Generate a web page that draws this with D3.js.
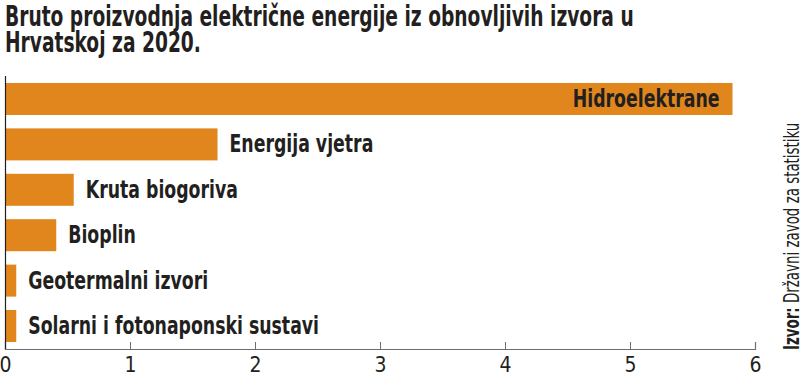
<!DOCTYPE html>
<html>
<head>
<meta charset="utf-8">
<script src="https://cdn.jsdelivr.net/npm/d3@7"></script>
<style>
  body { margin: 0; background: #fff; }
  svg { display: block; }
  text { font-family: "Liberation Sans Narrow", "DejaVu Sans Condensed", sans-serif; }
</style>
</head>
<body>
<svg id="Vis" width="800" height="374"></svg>
<script>
// data
const categories = ["Hidroelektrane", "Energija vjetra", "Kruta biogoriva", "Bioplin", "Geotermalni izvori", "Solarni i fotonaponski sustavi"];
const values = [5.82, 1.70, 0.55, 0.41, 0.09, 0.09];
const xTicks = [0, 1, 2, 3, 4, 5, 6];
const titleLines = ["Bruto proizvodnja električne energije iz obnovljivih izvora u", "Hrvatskoj za 2020."];
const sourceBold = "Izvor:";
const sourceText = " Državni zavod za statistiku";

const margin = { top: 76, bottom: 25, left: 5, right: 45 };
const barColor = "#e0861d";
const textColor = "#231f20";

const svg = d3.select("svg#Vis");
const width = +svg.attr("width");
const height = +svg.attr("height");
const plotWidth = width - margin.left - margin.right;
const plotHeight = height - margin.top - margin.bottom;

/* TITLE */
svg.append("g").attr("id", "title")
  .selectAll("text")
  .data(titleLines)
  .join("text")
    .attr("transform", (d, i) => "translate(5," + (26 + i * 26) + ") scale(0.715,1)")
    .style("font-size", "29px")
    .style("font-weight", "bold")
    .style("fill", textColor)
    .text(d => d);

const plot = svg.append("g").attr("id", "plot")
  .attr("transform", "translate(" + margin.left + "," + margin.top + ")");

/* SCALES */
const xScale = d3.scaleLinear().domain([0, 6]).range([0, plotWidth]);
const yScale = d3.scaleBand()
  .domain(categories)
  .range([0, plotHeight])
  .paddingInner(0.295)
  .paddingOuter(0.154);

/* BARS */
const rows = categories.map((c, i) => ({ name: c, value: values[i] }));

plot.append("g").attr("id", "bars")
  .selectAll("rect")
  .data(rows)
  .join("rect")
    .attr("x", 0)
    .attr("y", d => yScale(d.name))
    .attr("width", d => xScale(d.value))
    .attr("height", yScale.bandwidth())
    .style("fill", barColor);

/* LABELS */
plot.append("g").attr("id", "labels")
  .selectAll("text")
  .data(rows)
  .join("text")
    .attr("transform", (d, i) => {
      const x = i === 0 ? xScale(d.value) - 13 : xScale(d.value) + 12;
      return "translate(" + x + "," + (yScale(d.name) + yScale.bandwidth() / 2 + 8) + ") scale(0.77,1)";
    })
    .attr("text-anchor", (d, i) => i === 0 ? "end" : "start")
    .style("font-size", "25px")
    .style("font-weight", "bold")
    .style("fill", textColor)
    .text(d => d.name);

/* AXES */
const xAxis = d3.axisBottom(xScale).tickValues(xTicks).tickSize(-7).tickPadding(8).tickFormat(d3.format("d"));
const xGroup = plot.append("g").attr("id", "x-axis")
  .attr("transform", "translate(0," + plotHeight + ")")
  .call(xAxis);
xGroup.select(".domain").attr("stroke", "#6d6e71").attr("stroke-width", 1.2);
xGroup.selectAll(".tick line").attr("stroke", "#6d6e71");
xGroup.selectAll(".tick text")
  .style("font-family", "'Liberation Sans Narrow', 'DejaVu Sans Condensed', sans-serif")
  .style("font-size", "21px")
  .style("fill", textColor);

plot.append("line")
  .attr("x1", 0.5).attr("x2", 0.5)
  .attr("y1", 0).attr("y2", plotHeight)
  .attr("stroke", textColor)
  .attr("stroke-width", 1.2);

/* SOURCE */
const src = svg.append("text")
  .attr("transform", "translate(799,350) rotate(-90) scale(0.71,1)")
  .style("font-size", "21px")
  .style("fill", textColor);
src.append("tspan").style("font-weight", "bold").text(sourceBold);
src.append("tspan").text(sourceText);
</script>
</body>
</html>
